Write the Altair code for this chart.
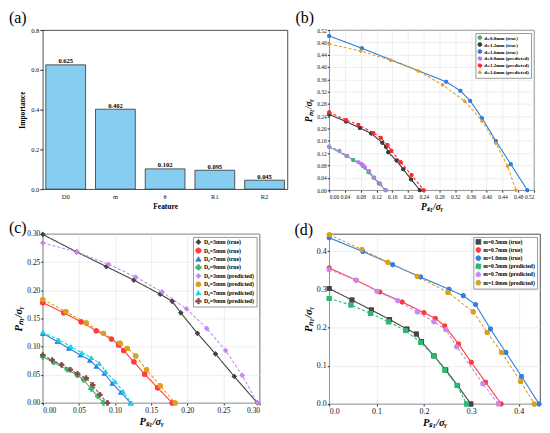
import altair as alt
import pandas as pd

SERIF = "Liberation Serif"

# ---------------- (a) feature importance ----------------
features = ["D0", "m", "θ", "R1", "R2"]
importance = [0.625, 0.402, 0.102, 0.095, 0.045]

# ---------------- (b) ----------------
b_names = ["d=0.8mm (true)", "d=1.2mm (true)", "d=1.6mm (true)",
           "d=0.8mm (predicted)", "d=1.2mm (predicted)", "d=1.6mm (predicted)"]
b08_true_x = [0.000, 0.044, 0.061, 0.085, 0.100, 0.113, 0.126, 0.143]
b08_true_y = [0.141, 0.111, 0.098, 0.079, 0.058, 0.040, 0.022, 0.000]
b12_true_x = [0.000, 0.0425, 0.078, 0.107, 0.135, 0.144, 0.150, 0.171, 0.188, 0.208, 0.230]
b12_true_y = [0.246, 0.223, 0.202, 0.184, 0.154, 0.141, 0.123, 0.096, 0.068, 0.035, 0.000]
b16_true_x = [0.000, 0.083, 0.297, 0.333, 0.358, 0.388, 0.423, 0.461, 0.503]
b16_true_y = [0.501, 0.461, 0.352, 0.323, 0.290, 0.234, 0.160, 0.084, 0.000]
b08_pred_x = [0.000, 0.026, 0.045, 0.0745, 0.082, 0.087, 0.091, 0.1015, 0.114, 0.129, 0.144]
b08_pred_y = [0.142, 0.128, 0.112, 0.091, 0.085, 0.080, 0.073, 0.062, 0.041, 0.022, 0.000]
b12_pred_x = [0.000, 0.0425, 0.074, 0.112, 0.131, 0.148, 0.158, 0.1815, 0.209, 0.240]
b12_pred_y = [0.253, 0.228, 0.2125, 0.186, 0.170, 0.147, 0.128, 0.091, 0.049, 0.000]
b16_pred_x = [0.000, 0.080, 0.156, 0.226, 0.288, 0.344, 0.388, 0.423, 0.453, 0.474]
b16_pred_y = [0.475, 0.452, 0.422, 0.387, 0.342, 0.289, 0.225, 0.152, 0.078, 0.000]
b_colors = ["#3cb371", "#3a3a3a", "#2f7fd8", "#b87ee8", "#ff2a2a", "#e0a030"]
b_shapes = ["circle", "circle", "circle", "circle", "circle", "diamond"]
b_sizes = [16, 16, 10, 18, 18, 12]

# ---------------- (c) ----------------
c_names = ["D₀=3mm (true)", "D₀=5mm (true)", "D₀=7mm (true)", "D₀=9mm (true)",
           "D₀=3mm (predicted)", "D₀=5mm (predicted)", "D₀=7mm (predicted)", "D₀=9mm (predicted)"]
c3_true_x = [0.000, 0.047, 0.088, 0.126, 0.1625, 0.179, 0.191, 0.214, 0.239, 0.265, 0.297]
c3_true_y = [0.299, 0.268, 0.242, 0.218, 0.193, 0.1805, 0.160, 0.1235, 0.087, 0.047, 0.000]
c5_true_x = [0.000, 0.029, 0.053, 0.074, 0.095, 0.105, 0.112, 0.126, 0.141, 0.159, 0.179]
c5_true_y = [0.178, 0.160, 0.144, 0.128, 0.1135, 0.103, 0.093, 0.073, 0.051, 0.027, 0.000]
c7_true_x = [0.000, 0.020, 0.036, 0.052, 0.065, 0.074, 0.085, 0.096, 0.108, 0.1215]
c7_true_y = [0.1235, 0.109, 0.097, 0.085, 0.076, 0.065, 0.053, 0.035, 0.019, 0.000]
c9_true_x = [0.000, 0.015, 0.034, 0.048, 0.0565, 0.067, 0.076, 0.084]
c9_true_y = [0.082, 0.072, 0.059, 0.049, 0.041, 0.025, 0.012, 0.000]
c3_pred_x = [0.000, 0.047, 0.091, 0.1286, 0.165, 0.199, 0.227, 0.253, 0.276, 0.297]
c3_pred_y = [0.284, 0.268, 0.246, 0.2235, 0.197, 0.167, 0.132, 0.093, 0.049, 0.000]
c5_pred_x = [0.000, 0.032, 0.060, 0.084, 0.107, 0.117, 0.1286, 0.1436, 0.1625, 0.183]
c5_pred_y = [0.1835, 0.162, 0.142, 0.1235, 0.106, 0.097, 0.0835, 0.059, 0.0305, 0.000]
c7_pred_x = [0.000, 0.022, 0.039, 0.054, 0.067, 0.078, 0.087, 0.100, 0.111, 0.1225]
c7_pred_y = [0.126, 0.112, 0.100, 0.089, 0.0805, 0.0705, 0.056, 0.038, 0.0205, 0.000]
c9_pred_x = [0.000, 0.013, 0.026, 0.038, 0.048, 0.060, 0.069, 0.079, 0.0895]
c9_pred_y = [0.085, 0.076, 0.0676, 0.059, 0.0517, 0.044, 0.032, 0.0146, 0.000]
c_colors = ["#454545", "#ff3b3b", "#2f7fe0", "#3cb371", "#c58af2", "#dca020", "#10d8e0", "#8b4a4a"]
c_shapes = ["diamond", "circle", "triangle-up", "cross", "diamond", "circle", "triangle-up", "cross"]
c_sizes = [28, 28, 24, 20, 28, 30, 24, 20]

# ---------------- (d) ----------------
d_names = ["m=0.5mm (true)", "m=0.7mm (true)", "m=1.0mm (true)",
           "m=0.5mm (predicted)", "m=0.7mm (predicted)", "m=1.0mm (predicted)"]
d05_true_x = [0.000, 0.048, 0.089, 0.1275, 0.164, 0.184, 0.195, 0.221, 0.246, 0.271, 0.299]
d05_true_y = [0.302, 0.272, 0.246, 0.221, 0.196, 0.183, 0.163, 0.126, 0.089, 0.0485, 0.000]
d07_true_x = [0.000, 0.057, 0.107, 0.154, 0.200, 0.224, 0.244, 0.273, 0.300, 0.330, 0.363]
d07_true_y = [0.356, 0.324, 0.293, 0.267, 0.239, 0.224, 0.204, 0.157, 0.109, 0.057, 0.000]
d10_true_x = [0.000, 0.071, 0.134, 0.193, 0.253, 0.283, 0.309, 0.3405, 0.373, 0.406, 0.443]
d10_true_y = [0.435, 0.399, 0.3645, 0.332, 0.300, 0.283, 0.260, 0.196, 0.1345, 0.072, 0.000]
d05_pred_x = [0.000, 0.046, 0.087, 0.125, 0.161, 0.193, 0.221, 0.244, 0.270, 0.290]
d05_pred_y = [0.276, 0.259, 0.237, 0.215, 0.192, 0.161, 0.126, 0.089, 0.0485, 0.000]
d07_pred_x = [0.000, 0.057, 0.101, 0.145, 0.186, 0.221, 0.246, 0.269, 0.3245, 0.357]
d07_pred_y = [0.352, 0.324, 0.295, 0.270, 0.241, 0.215, 0.195, 0.150, 0.053, 0.000]
d10_pred_x = [0.000, 0.069, 0.124, 0.186, 0.2506, 0.304, 0.3335, 0.364, 0.404, 0.433]
d10_pred_y = [0.443, 0.404, 0.371, 0.334, 0.292, 0.241, 0.187, 0.1345, 0.059, 0.000]
d_colors = ["#454545", "#ff3b3b", "#2f80e0", "#2eb872", "#c58af2", "#d8a020"]
d_shapes = ["square", "circle", "circle", "square", "circle", "circle"]
d_sizes = [24, 26, 26, 24, 26, 26]

panel_labels = ["(a)", "(b)", "(c)", "(d)"]
DASH = [3, 2]
# legend glyph: a short line with a dot on it
LEG_SYMBOL = "M-1,0L1,0M0.32,0A0.32,0.32,0,1,1,-0.32,0A0.32,0.32,0,1,1,0.32,0Z"


def long_df(names, xs, ys):
    rows = []
    for n, xv, yv in zip(names, xs, ys):
        for i, (a, b) in enumerate(zip(xv, yv)):
            rows.append({"series": n, "x": a, "y": b, "idx": i})
    return pd.DataFrame(rows)


def panel_label(text, dx, dy):
    return alt.Chart(pd.DataFrame({"lab": [text]})).mark_text(
        align="left", baseline="top", fontSize=16, font=SERIF, color="#000"
    ).encode(text="lab:N", x=alt.value(dx), y=alt.value(dy))


def line_panel(df, names, colors, shapes, sizes, xdom, xvals, xfmt, ydom, yvals, yfmt,
               w, h, label, ldx, ldy, lab_size, tit_size, leg):
    dashes = [[1, 0] if "(true)" in n else DASH for n in names]
    xax = alt.Axis(values=xvals, format=xfmt, title="Pₛ₁/σᵧ", labelFontSize=lab_size,
                   titleFontSize=tit_size, grid=True, tickSize=2, labelPadding=2,
                   titlePadding=2, titleFontStyle="italic")
    yax = alt.Axis(values=yvals, format=yfmt, title="Pₙ₁/σᵧ", labelFontSize=lab_size,
                   titleFontSize=tit_size, grid=True, tickSize=2, labelPadding=1,
                   titlePadding=3, titleFontStyle="italic")
    X = alt.X("x:Q", scale=alt.Scale(domain=xdom, nice=False, zero=False), axis=xax)
    Y = alt.Y("y:Q", scale=alt.Scale(domain=ydom, nice=False, zero=False), axis=yax)
    legend = alt.Legend(title=None, orient="top-right", offset=leg["offset"], padding=2,
                        strokeColor="#999", fillColor="white", labelFont=SERIF,
                        labelFontWeight="bold", labelFontSize=leg["font"],
                        rowPadding=leg["row"], clipHeight=leg["clip"], symbolSize=leg["sym"],
                        symbolType=LEG_SYMBOL, labelOffset=2, symbolStrokeWidth=0.9)
    col = alt.Color("series:N", scale=alt.Scale(domain=names, range=colors), legend=legend)
    lines = alt.Chart(df).mark_line(strokeWidth=1.1).encode(
        x=X, y=Y, color=col,
        strokeDash=alt.StrokeDash("series:N", scale=alt.Scale(domain=names, range=dashes), legend=legend),
        order="idx:Q")
    pts = alt.Chart(df).mark_point(filled=True, opacity=1).encode(
        x=X, y=Y, color=col,
        shape=alt.Shape("series:N", scale=alt.Scale(domain=names, range=shapes), legend=None),
        size=alt.Size("series:N", scale=alt.Scale(domain=names, range=sizes), legend=None))
    return alt.layer(pts, lines, pts, panel_label(label, ldx, ldy)).properties(width=w, height=h)


# ---- panel a ----
df_a = pd.DataFrame({"Feature": features, "Importance": importance})
xa = alt.X("Feature:N", sort=features,
           scale=alt.Scale(paddingInner=0.2, paddingOuter=0.06),
           axis=alt.Axis(title="Feature", labelAngle=0, ticks=False, labelPadding=4,
                         labelFontSize=6.5, titleFontSize=7.5, titlePadding=3))
ya = alt.Y("Importance:Q", scale=alt.Scale(domain=[0, 0.8], nice=False),
           axis=alt.Axis(title="Importance", values=[0, 0.2, 0.4, 0.6, 0.8], format=".1f",
                         grid=False, tickSize=3, labelPadding=1, labelFontSize=6.5,
                         titleFontSize=7.5, titlePadding=4))
bars = alt.Chart(df_a).mark_bar(color="#86cdf0", stroke="#333333", strokeWidth=0.8).encode(x=xa, y=ya)
btxt = alt.Chart(df_a).mark_text(baseline="bottom", dy=-0.5, font=SERIF, fontWeight="bold",
                                 fontSize=6.5).encode(x=xa, y=ya, text=alt.Text("Importance:Q", format=".3f"))
pa = alt.layer(bars, btxt, panel_label(panel_labels[0], -34, -20)).properties(width=246, height=160)

# ---- panel b ----
df_b = long_df(b_names,
               [b08_true_x, b12_true_x, b16_true_x, b08_pred_x, b12_pred_x, b16_pred_x],
               [b08_true_y, b12_true_y, b16_true_y, b08_pred_y, b12_pred_y, b16_pred_y])
tb = [round(i * 0.04, 2) for i in range(14)]
pb = line_panel(df_b, b_names, b_colors, b_shapes, b_sizes, [0, 0.52], tb, ".2f", [0, 0.52], tb, ".2f",
                206, 161, panel_labels[1], -34, -20, 5.5, 9.5,
                {"offset": 3, "font": 5.0, "row": 1, "clip": 5.2, "sym": 110})

# ---- panel c ----
df_c = long_df(c_names,
               [c3_true_x, c5_true_x, c7_true_x, c9_true_x, c3_pred_x, c5_pred_x, c7_pred_x, c9_pred_x],
               [c3_true_y, c5_true_y, c7_true_y, c9_true_y, c3_pred_y, c5_pred_y, c7_pred_y, c9_pred_y])
tc = [round(i * 0.05, 2) for i in range(7)]
pc = line_panel(df_c, c_names, c_colors, c_shapes, c_sizes, [0, 0.30], tc, ".2f", [0, 0.30], tc, ".2f",
                218, 170, panel_labels[2], -34, -14, 7.5, 10.5,
                {"offset": 3, "font": 5.8, "row": 1.5, "clip": 6.4, "sym": 130})

# ---- panel d ----
df_d = long_df(d_names,
               [d05_true_x, d07_true_x, d10_true_x, d05_pred_x, d07_pred_x, d10_pred_x],
               [d05_true_y, d07_true_y, d10_true_y, d05_pred_y, d07_pred_y, d10_pred_y])
td = [0, 0.1, 0.2, 0.3, 0.4]
pd_ = line_panel(df_d, d_names, d_colors, d_shapes, d_sizes, [0, 0.445], td, ".1f", [0, 0.445], td, ".1f",
                 212, 171, panel_labels[3], -35, -12, 8, 10.5,
                 {"offset": 3, "font": 5.6, "row": 1.2, "clip": 6, "sym": 120})

chart = alt.concat(
    pa, pb, pc, pd_, columns=2, bounds="flush", align="each",
    spacing=alt.RowColnumber(row=44, column=42)
).resolve_scale(
    x="independent", y="independent", color="independent", shape="independent",
    strokeDash="independent", size="independent"
).properties(padding=0).configure(
    font=SERIF
).configure_view(
    stroke="#222222", strokeWidth=0.8
).configure_axis(
    labelFont=SERIF, titleFont=SERIF, titleFontWeight="bold", labelColor="#111", titleColor="#000",
    domain=False, tickColor="#222", gridColor="#e2e2e2", gridWidth=0.6
)

chart.save("out.html", embed_options={"renderer": "svg", "actions": False})
